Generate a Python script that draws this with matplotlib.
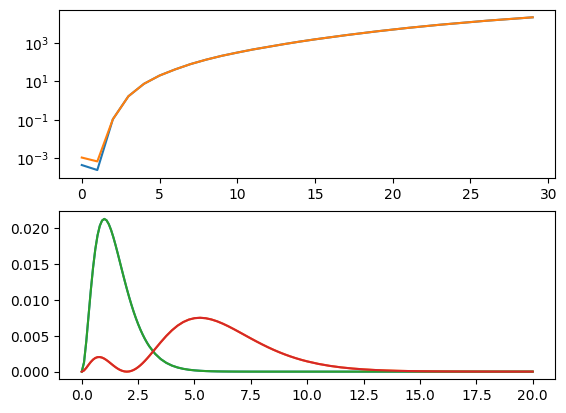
import matplotlib
matplotlib.use("Agg")
import matplotlib.pyplot as plt

# ---- top panel data (log scale) ----
top_x = [0, 1, 2, 3, 4, 5, 6, 7, 8, 9, 10, 11, 12, 13, 14, 15, 16, 17, 18, 19,
         20, 21, 22, 23, 24, 25, 26, 27, 28, 29]
top_blue = [4.27e-4, 2.34e-4, 0.105, 1.66, 7.41, 19.95, 41.7, 79.4, 134.9, 213.8,
            316, 457, 631, 871, 1175, 1549, 1995, 2570, 3236, 4074,
            5012, 6166, 7413, 8913, 10471, 12303, 14454, 16596, 19055, 21878]
top_orange = [1.05e-3, 6.6e-4, 0.105, 1.66, 7.41, 19.95, 41.7, 79.4, 134.9, 213.8,
              316, 457, 631, 871, 1175, 1549, 1995, 2570, 3236, 4074,
              5012, 6166, 7413, 8913, 10471, 12303, 14454, 16596, 19055, 21878]

# ---- bottom panel data ----
bot_x = [0.0, 0.1, 0.2, 0.3, 0.4, 0.5, 0.6, 0.7, 0.8, 0.9,
         1.0, 1.1, 1.2, 1.3, 1.4, 1.5, 1.6, 1.7, 1.8, 1.9,
         2.0, 2.1, 2.2, 2.3, 2.4, 2.5, 2.6, 2.7, 2.8, 2.9,
         3.0, 3.25, 3.5, 3.75, 4.0, 4.25, 4.5, 4.75, 5.0, 5.25,
         5.5, 5.75, 6.0, 6.25, 6.5, 6.75, 7.0, 7.25, 7.5, 7.75,
         8.0, 8.25, 8.5, 8.75, 9.0, 9.25, 9.5, 9.75, 10.0, 10.5,
         11.0, 11.5, 12.0, 12.5, 13.0, 13.5, 14.0, 14.5, 15.0, 15.5,
         16.0, 16.5, 17.0, 17.5, 18.0, 18.5, 19.0, 19.5, 20.0]
bot_green = [0.0, 0.001290, 0.004226, 0.007784, 0.011330, 0.014494, 0.017088, 0.019043, 0.020364, 0.021101,
             0.021329, 0.021130, 0.020588, 0.019782, 0.018784, 0.017655, 0.016446, 0.015200, 0.013952, 0.012728,
             0.011546, 0.010422, 0.009365, 0.008380, 0.007471, 0.006637, 0.005878, 0.005190, 0.004569, 0.004013,
             0.003516, 0.002503, 0.001760, 0.001226, 0.000846, 0.000579, 0.000394, 0.000266, 0.000179, 0.000120,
             0.0000796, 0.0000528, 0.0000349, 0.0000229, 0.0000151, 0.0000098, 0.0000064, 0.0000042, 0.0000027, 0.0000018,
             0.0000011, 0.0000007, 0.0000005, 0.0000003, 0.0000002, 0.0000001, 0.0, 0.0, 0.0, 0.0,
             0.0, 0.0, 0.0, 0.0, 0.0, 0.0, 0.0, 0.0, 0.0, 0.0,
             0.0, 0.0, 0.0, 0.0, 0.0, 0.0, 0.0, 0.0, 0.0]
bot_red = [0.0, 0.0001609, 0.0005226, 0.000949, 0.001352, 0.001680, 0.001907, 0.002025, 0.002039, 0.001962,
           0.001812, 0.001607, 0.001367, 0.001111, 0.000857, 0.000618, 0.000407, 0.000234, 0.0001055, 0.0000266,
           0.0, 0.0000266, 0.0001056, 0.000235, 0.000412, 0.000632, 0.000890, 0.001182, 0.001503, 0.001846,
           0.002207, 0.003152, 0.004099, 0.004988, 0.005773, 0.006424, 0.006924, 0.007270, 0.007466, 0.007524,
           0.007458, 0.007288, 0.007032, 0.006708, 0.006335, 0.005928, 0.005501, 0.005067, 0.004635, 0.004213,
           0.003807, 0.003421, 0.003059, 0.002722, 0.002412, 0.002129, 0.001871, 0.001639, 0.001431, 0.001080,
           0.000806, 0.000595, 0.000436, 0.000316, 0.000228, 0.000163, 0.000116, 0.0000816, 0.0000573, 0.0000400,
           0.0000278, 0.0000192, 0.0000133, 0.0000091, 0.0000062, 0.0000042, 0.0000029, 0.0000019, 0.0000013]

fig, (ax1, ax2) = plt.subplots(2, 1, figsize=(6.4, 4.8), dpi=100)

ax1.plot(top_x, top_blue, color="C0")
ax1.plot(top_x, top_orange, color="C1")
ax1.set_yscale("log")

ax2.plot(bot_x, bot_green, color="C0")
ax2.plot(bot_x, bot_red, color="C1")
ax2.plot(bot_x, bot_green, color="C2")
ax2.plot(bot_x, bot_red, color="C3")

fig.savefig("out.png", dpi=100, bbox_inches="tight")
